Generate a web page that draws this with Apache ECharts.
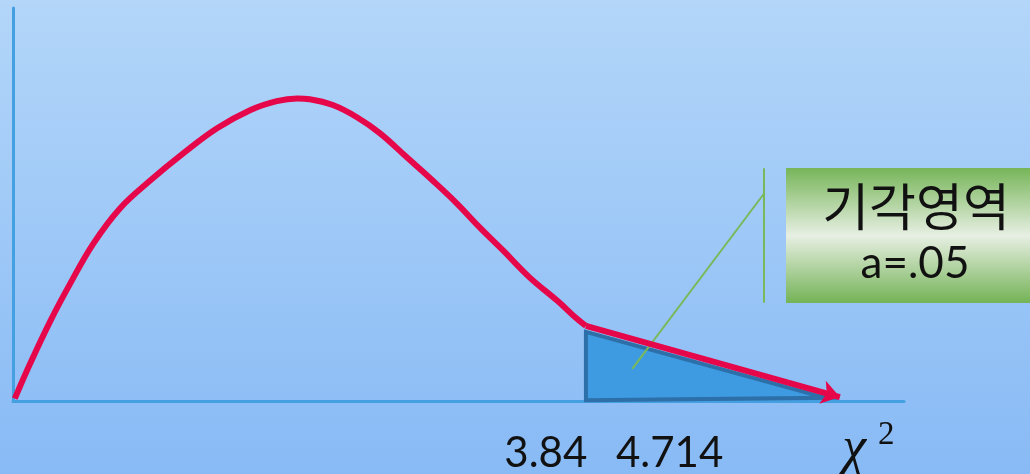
<!DOCTYPE html>
<html>
<head>
<meta charset="utf-8">
<script src="https://cdn.jsdelivr.net/npm/echarts@6/dist/echarts.min.js"></script>
<style>
  html, body { margin: 0; padding: 0; }
  #main { width: 1030px; height: 474px; }
</style>
</head>
<body>
<div id="main"></div>
<script>
// density curve (x: 0..100 along the axis, y: 0..100 height)
var curvePts = [
  [0.2, 0.6], [1.9, 9.4], [4.2, 20.4], [6.4, 29.8], [9.0, 40.0], [12.0, 49.0],
  [15.4, 56.1], [19.1, 63.0], [22.9, 69.4], [26.6, 74.0], [29.6, 76.3], [31.9, 77.0],
  [33.3, 76.8], [35.9, 75.3], [38.6, 72.2], [41.2, 68.1], [44.2, 62.0], [47.1, 56.1],
  [49.8, 50.3], [52.4, 44.1], [55.0, 38.3], [58.0, 31.4], [61.1, 25.5], [63.3, 20.9],
  [64.3, 19.1]
];
// tail beyond the critical value, ends in an arrow
var tailPts = [[64.3, 19.1], [92.8, 1.0]];
// rejection region
var regionPts = [[64.3, 17.6], [64.3, 0.2], [91.2, 0.8]];
// callout from the region to the label box
var calloutDiag = [[69.5, 8.2], [84.3, 52.8]];
var calloutBar = [[84.3, 59.2], [84.3, 25.0]];

var tickValues = [59.8, 73.7, 96.0];
var tickLabels = ['3.84', '4.714', 'χ2'];
var boxTitle = '기각영역';
var boxSub = 'a=.05';

var chart = echarts.init(document.getElementById('main'));

chart.setOption({
  backgroundColor: new echarts.graphic.LinearGradient(0, 0, 0, 1, [
    { offset: 0, color: '#b3d6f9' },
    { offset: 1, color: '#88baf5' }
  ]),
  animation: false,
  grid: { left: 13, right: 126, top: 8, bottom: 73, containLabel: false, outerBoundsMode: 'none' },
  xAxis: {
    type: 'value', min: 0, max: 100,
    splitLine: { show: false },
    axisTick: { show: false },
    axisLine: { show: true, lineStyle: { color: '#45a0e2', width: 3 } },
    axisLabel: {
      customValues: tickValues,
      margin: 18,
      color: '#111',
      formatter: function (v) {
        var t = tickLabels[tickValues.indexOf(v)];
        if (t === 'χ2') return '{chi|χ}{sup|2}';
        return '{num|' + t + '}';
      },
      rich: {
        num: { fontFamily: 'Lato', fontSize: 42, color: '#111', padding: [13, 0, 0, 0] },
        chi: { fontFamily: 'Liberation Serif', fontStyle: 'italic', fontSize: 54, lineHeight: 62, color: '#111' },
        sup: { fontFamily: 'Liberation Serif', fontSize: 33, lineHeight: 20, verticalAlign: 'top', color: '#111', padding: [0, 0, 0, 12] }
      }
    }
  },
  yAxis: {
    type: 'value', min: 0, max: 100,
    splitLine: { show: false },
    axisTick: { show: false },
    axisLabel: { show: false },
    axisLine: { show: true, lineStyle: { color: '#45a0e2', width: 3 } }
  },
  series: [
    {
      type: 'custom',
      z: 1,
      data: regionPts,
      renderItem: function (params, api) {
        if (params.dataIndex !== 0) return;
        var pts = regionPts.map(function (p) { return api.coord(p); });
        return {
          type: 'polygon',
          shape: { points: pts },
          style: { fill: '#3e9be2', stroke: '#2d6fa8', lineWidth: 4, lineJoin: 'miter' }
        };
      }
    },
    {
      type: 'lines',
      coordinateSystem: 'cartesian2d',
      z: 2,
      symbol: 'none',
      lineStyle: { color: '#7ab95b', width: 2, opacity: 1 },
      data: [{ coords: calloutDiag }, { coords: calloutBar }]
    },
    {
      type: 'line',
      z: 3,
      data: curvePts,
      smooth: 0.4,
      showSymbol: false,
      lineStyle: { color: '#e6064a', width: 6 }
    },
    {
      type: 'lines',
      coordinateSystem: 'cartesian2d',
      z: 3,
      symbol: ['none', 'arrow'],
      symbolSize: 18,
      lineStyle: { color: '#e6064a', width: 6, opacity: 1, curveness: 0 },
      data: [{ coords: tailPts }]
    }
  ],
  graphic: [
    {
      type: 'rect',
      left: 786, top: 168,
      shape: { width: 250, height: 135 },
      style: {
        fill: new echarts.graphic.LinearGradient(0, 0, 0, 1, [
          { offset: 0, color: '#76b558' },
          { offset: 0.5, color: '#e7efe3' },
          { offset: 1, color: '#74b356' }
        ])
      }
    },
    {
      type: 'text',
      x: 916, y: 207,
      style: {
        text: boxTitle, fontFamily: 'Noto Sans CJK KR', fontSize: 51,
        fill: '#111', align: 'center', verticalAlign: 'middle'
      }
    },
    {
      type: 'text',
      x: 915, y: 264,
      style: {
        text: boxSub, fontFamily: 'Lato', fontSize: 44,
        fill: '#111', align: 'center', verticalAlign: 'middle'
      }
    }
  ]
});
</script>
</body>
</html>
